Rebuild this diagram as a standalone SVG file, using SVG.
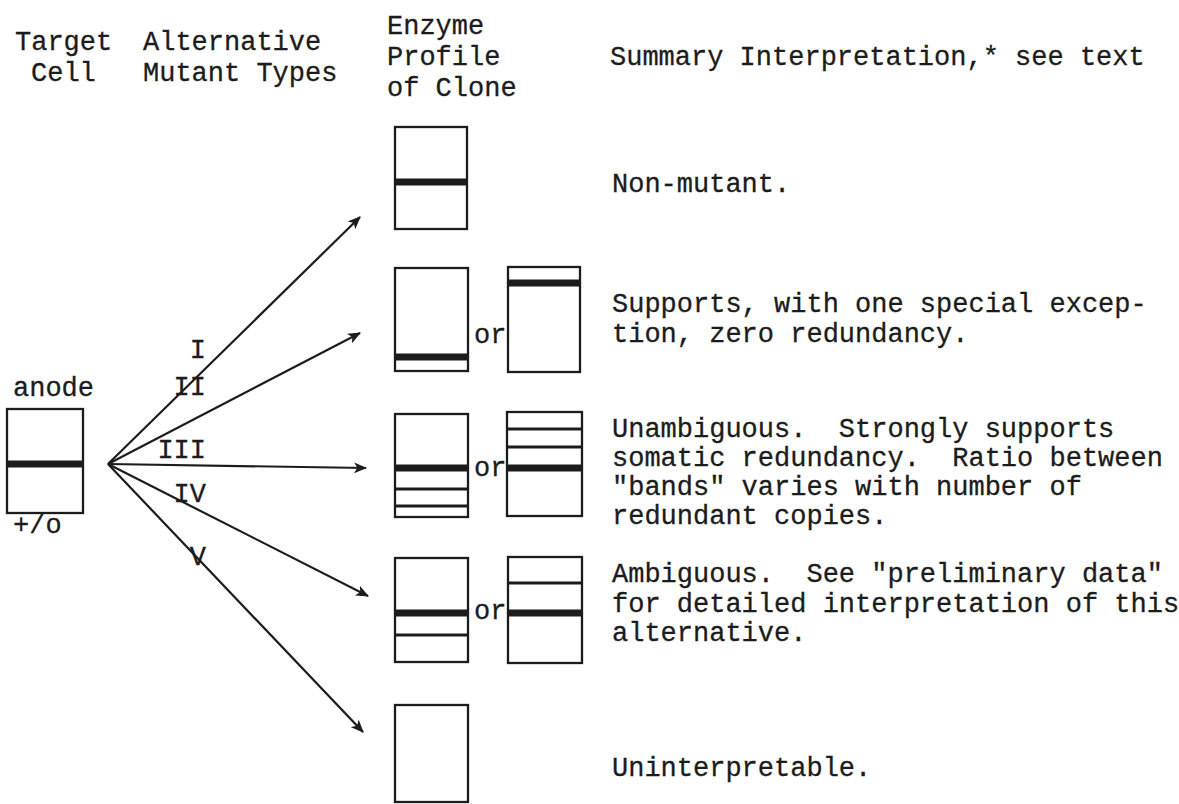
<svg xmlns="http://www.w3.org/2000/svg" width="1179" height="804" viewBox="0 0 1179 804">
<defs>
<marker id="ah" viewBox="0 0 12 10" refX="11" refY="5" markerWidth="13" markerHeight="11" markerUnits="userSpaceOnUse" orient="auto"><path d="M0,0 L12,5 L0,10 L3,5 z" fill="#1c1c1c"/></marker>
</defs>
<style>
text{font-family:"Liberation Mono","DejaVu Sans Mono",monospace;font-size:27px;fill:#1c1c1c;white-space:pre;stroke:#1c1c1c;stroke-width:0.3}
.box{fill:none;stroke:#1c1c1c;stroke-width:2.3}
.thick{stroke:#1c1c1c;stroke-width:7}
.thin{stroke:#1c1c1c;stroke-width:3}
.conn{stroke:#1c1c1c;stroke-width:2.2;fill:none;marker-end:url(#ah)}
</style>
<rect width="1179" height="804" fill="#ffffff"/>

<g id="headers">
<text x="15" y="50">Target</text>
<text x="31" y="81">Cell</text>
<text x="143" y="50">Alternative</text>
<text x="143" y="81">Mutant Types</text>
<text x="387" y="34">Enzyme</text>
<text x="387" y="65">Profile</text>
<text x="387" y="96">of Clone</text>
<text x="610" y="65">Summary Interpretation,* see text</text>
</g>

<g id="target-cell">
<text x="13" y="396">anode</text>
<rect class="box" x="7" y="409" width="76" height="104"/>
<line class="thick" x1="7" y1="464" x2="83" y2="464"/>
<text x="13" y="533">+/o</text>
</g>

<g id="connectors">
<line class="conn" x1="108" y1="464" x2="360" y2="217"/>
<line class="conn" x1="108" y1="464" x2="360" y2="333"/>
<line class="conn" x1="108" y1="464" x2="366" y2="468"/>
<line class="conn" x1="108" y1="464" x2="368" y2="596"/>
<line class="conn" x1="108" y1="464" x2="363" y2="732"/>
</g>

<g id="mutant-labels">
<text x="206" y="358" text-anchor="end">I</text>
<text x="206" y="395" text-anchor="end">II</text>
<text x="206" y="458" text-anchor="end">III</text>
<text x="206" y="502" text-anchor="end">IV</text>
<text x="206" y="565" text-anchor="end">V</text>
</g>

<g id="profile-1">
<rect class="box" x="395" y="127" width="72" height="102"/>
<line class="thick" x1="395" y1="182" x2="467" y2="182"/>
</g>

<g id="profile-2">
<rect class="box" x="395" y="268" width="73" height="103"/>
<line class="thick" x1="395" y1="357" x2="468" y2="357"/>
<text x="474" y="343">or</text>
<rect class="box" x="508" y="267" width="72" height="105"/>
<line class="thick" x1="508" y1="283" x2="580" y2="283"/>
</g>

<g id="profile-3">
<rect class="box" x="395" y="414" width="73" height="103"/>
<line class="thick" x1="395" y1="468" x2="468" y2="468"/>
<line class="thin" x1="395" y1="489" x2="468" y2="489"/>
<line class="thin" x1="395" y1="506" x2="468" y2="506"/>
<text x="474" y="476">or</text>
<rect class="box" x="507" y="412" width="75" height="104"/>
<line class="thin" x1="507" y1="429" x2="582" y2="429"/>
<line class="thin" x1="507" y1="447" x2="582" y2="447"/>
<line class="thick" x1="507" y1="468" x2="582" y2="468"/>
</g>

<g id="profile-4">
<rect class="box" x="395" y="558" width="73" height="104"/>
<line class="thick" x1="395" y1="613" x2="468" y2="613"/>
<line class="thin" x1="395" y1="635" x2="468" y2="635"/>
<text x="474" y="619">or</text>
<rect class="box" x="508" y="557" width="74" height="106"/>
<line class="thin" x1="508" y1="583" x2="582" y2="583"/>
<line class="thick" x1="508" y1="613" x2="582" y2="613"/>
</g>

<g id="profile-5">
<rect class="box" x="395" y="705" width="73" height="97"/>
</g>

<g id="interp-1"><text x="612" y="192">Non-mutant.</text></g>
<g id="interp-2">
<text x="612" y="312">Supports, with one special excep-</text>
<text x="612" y="342">tion, zero redundancy.</text>
</g>
<g id="interp-3">
<text x="612" y="437">Unambiguous.  Strongly supports</text>
<text x="612" y="466">somatic redundancy.  Ratio between</text>
<text x="612" y="495">"bands" varies with number of</text>
<text x="612" y="524">redundant copies.</text>
</g>
<g id="interp-4">
<text x="612" y="582">Ambiguous.  See "preliminary data"</text>
<text x="612" y="612">for detailed interpretation of this</text>
<text x="612" y="641">alternative.</text>
</g>
<g id="interp-5"><text x="612" y="776">Uninterpretable.</text></g>
</svg>
